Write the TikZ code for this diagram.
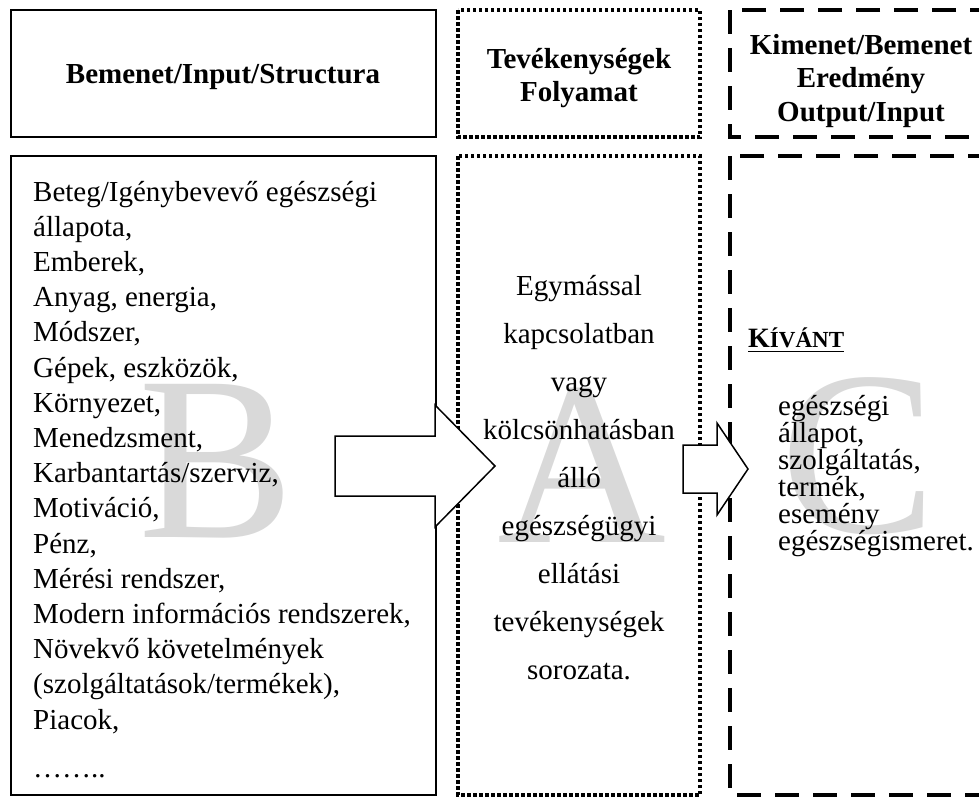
\documentclass[tikz,border=0pt]{standalone}
\usepackage{fontspec}
\setmainfont{Liberation Serif}
\definecolor{ghost}{RGB}{217,217,217}
\tikzset{
  body/.style={font=\fontsize{29}{34}\selectfont, inner sep=0pt},
  head/.style={font=\bfseries\fontsize{29}{34}\selectfont, inner sep=0pt, anchor=base},
  bigletter/.style={font=\fontsize{234}{240}\selectfont, text=ghost, inner sep=0pt, anchor=base},
  solidbox/.style={draw, line width=1.8pt},
  dotbox/.style={draw, line width=3.5pt, dash pattern=on 3.5pt off 2.5pt},
  dashbox/.style={draw, line width=4pt, dash pattern=on 24pt off 14pt},
  blockarrow/.style={draw, fill=white, line width=1.5pt, line join=miter},
}
\begin{document}
\begin{tikzpicture}[x=1pt,y=-1pt]
\useasboundingbox (0,0) rectangle (979,798);
\clip (0,0) rectangle (979,798);

% large background letters
\node[bigletter] (bigB) at (217,537) {B};
\node[bigletter] (bigA) at (582,542) {A};
\node[bigletter] (bigC) at (859,532) {C};

% column frames
\draw[solidbox] (11,10) rectangle (436,137);
\draw[solidbox] (11,156) rectangle (436,795);
\draw[dotbox] (458,10) rectangle (700,137);
\draw[dotbox] (458,156) rectangle (700,795);
\draw[dashbox] (730,10) rectangle (1020,137);
\draw[dashbox] (730,156) rectangle (1020,795);

% headers
\node[head] (hin) at (223,83) {Bemenet/Input/Structura};
\node[head] (hact1) at (579,68) {Tevékenységek};
\node[head] (hact2) at (579,101) {Folyamat};
\node[head] (hout1) at (861,54) {Kimenet/Bemenet};
\node[head] (hout2) at (861,87) {Eredmény};
\node[head] (hout3) at (861,121) {Output/Input};

% inputs
\foreach \t [count=\i] in {{Beteg/Igénybevevő egészségi},{állapota,},{Emberek,},
  {Anyag, energia,},{Módszer,},{Gépek, eszközök,},{Környezet,},{Menedzsment,},
  {Karbantartás/szerviz,},{Motiváció,},{Pénz,},{Mérési rendszer,},
  {Modern információs rendszerek,},{Növekvő követelmények},
  {(szolgáltatások/termékek),},{Piacok,}}
  \node[body, anchor=base west] (in\i) at (33,{201+35.2*(\i-1)}) {\t};
\node[body, anchor=base west] (indots) at (33,777) {……..};

% activities
\foreach \t [count=\i] in {Egymással,kapcsolatban,vagy,kölcsönhatásban,álló,
  egészségügyi,ellátási,tevékenységek,sorozata.}
  \node[body, anchor=base] (act\i) at (579,{295+48*(\i-1)}) {\t};

% outputs
\node[anchor=base west, inner sep=0pt] (kivant) at (748,347)
  {\bfseries\fontsize{28}{30}\selectfont K\fontsize{23}{30}\selectfont ÍVÁNT};
\draw[line width=1.6pt] ([yshift=-4.5pt]kivant.base west) -- ([yshift=-4.5pt]kivant.base east);
\foreach \t [count=\i] in {egészségi,{állapot,},{szolgáltatás,},{termék,},esemény,
  egészségismeret.}
  \node[body, anchor=base west] (out\i) at (778,{415+27*(\i-1)}) {\t};

% block arrows between the columns
\draw[blockarrow] (335,436) -- (435,436) -- (435,405) -- (495,466)
  -- (435,527) -- (435,496) -- (335,496) -- cycle;
\draw[blockarrow] (683,445) -- (717,445) -- (717,423) -- (748,469)
  -- (717,515) -- (717,493) -- (683,493) -- cycle;
\end{tikzpicture}
\end{document}
